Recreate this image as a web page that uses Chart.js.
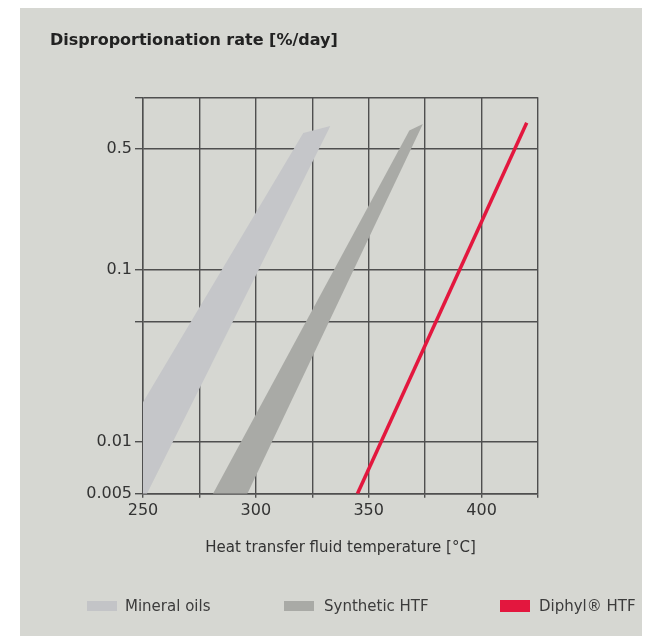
<!DOCTYPE html>
<html lang="en">
<head>
  <meta charset="UTF-8" />
  <title>Disproportionation rate</title>
  <script src="https://cdn.jsdelivr.net/npm/chart.js"></script>
  <style>
    body {
      margin: 0;
      padding: 0;
      background: #ffffff;
      font-family: 'DejaVu Sans', sans-serif;
    }

    .panel {
      position: absolute;
      left: 20px;
      top: 8px;
      width: 622px;
      height: 628px;
      background: #d6d7d2;
    }

    .chart-box {
      position: absolute;
      left: 0;
      top: 0;
      width: 622px;
      height: 628px;
    }

    .legend span {
      position: absolute;
      font-size: 15px;
      line-height: 20px;
      color: #3c3c3c;
      white-space: nowrap;
    }

    .legend .swatch {
      height: 10px;
      width: 30px;
    }
  </style>
</head>
<body>

<div class="panel">
  <div class="chart-box">
    <canvas id="rateChart"></canvas>
  </div>

  <!-- legend -->
  <div class="legend">
    <span class="swatch" style="left:67px; top:593px; background:#c3c4c7;"></span>
    <span style="left:105px; top:588px;">Mineral oils</span>
    <span class="swatch" style="left:264px; top:593px; background:#a9aaa6;"></span>
    <span style="left:304px; top:588px;">Synthetic HTF</span>
    <span class="swatch" style="left:480px; top:592px; height:12px; background:#e3173e;"></span>
    <span style="left:519px; top:588px;">Diphyl® HTF</span>
  </div>
</div>

<script>
  // axis grid / labels
  const xGrid = [250, 275, 300, 325, 350, 375, 400, 425];
  const xLabels = [250, 300, 350, 400];
  const yGrid = [0.005, 0.01, 0.05, 0.1, 0.5, 1];
  const yLabels = [0.005, 0.01, 0.1, 0.5];

  // mineral oils band (edges, temperature / rate)
  const mineralUpperT = [250, 321, 333];
  const mineralUpperV = [0.017, 0.62, 0.68];
  const mineralLowerT = [250, 333];
  const mineralLowerV = [0.0045, 0.68];

  // synthetic HTF band
  const synthUpperT = [281, 368, 374];
  const synthUpperV = [0.005, 0.64, 0.70];
  const synthLowerT = [281, 374];
  const synthLowerV = [0.0019, 0.70];

  // Diphyl HTF line
  const diphylT = [345, 420];
  const diphylV = [0.005, 0.71];

  function pts(t, v) {
    return t.map((x, i) => ({ x: x, y: v[i] }));
  }

  const gridColor = '#4f4f4f';
  const tickFont = { family: 'DejaVu Sans', size: 16 };

  const edge = { borderWidth: 0, borderColor: 'rgba(0,0,0,0)', pointRadius: 0 };

  new Chart(document.getElementById('rateChart'), {
    type: 'line',
    data: {
      datasets: [
        { ...edge, label: 'Mineral oils top', data: pts(mineralUpperT, mineralUpperV), fill: false },
        { ...edge, label: 'Mineral oils', data: pts(mineralLowerT, mineralLowerV), fill: '-1', backgroundColor: '#c5c6c9' },
        { ...edge, label: 'Synthetic HTF top', data: pts(synthUpperT, synthUpperV), fill: false },
        { ...edge, label: 'Synthetic HTF', data: pts(synthLowerT, synthLowerV), fill: '-1', backgroundColor: '#a9aaa6' },
        {
          label: 'Diphyl® HTF',
          data: pts(diphylT, diphylV),
          borderColor: '#e3173e',
          borderWidth: 3.5,
          pointRadius: 0,
          fill: false
        }
      ]
    },
    options: {
      responsive: true,
      maintainAspectRatio: false,
      animation: false,
      layout: { padding: { left: 30, right: 104, top: 0, bottom: 77 } },
      scales: {
        x: {
          type: 'linear',
          min: 250,
          max: 425,
          afterBuildTicks: s => { s.ticks = xGrid.map(v => ({ value: v })); },
          ticks: {
            callback: v => xLabels.includes(v) ? String(v) : '',
            font: tickFont,
            color: '#333',
            padding: 3,
            maxRotation: 0,
            autoSkip: false
          },
          grid: { color: gridColor, lineWidth: 1.4, tickLength: 4 },
          border: { color: gridColor, width: 1.4 },
          title: {
            display: true,
            text: 'Heat transfer fluid temperature [°C]',
            font: { family: 'DejaVu Sans', size: 15 },
            color: '#333',
            padding: { top: 16, bottom: 2 }
          }
        },
        y: {
          type: 'logarithmic',
          min: 0.005,
          max: 1,
          afterBuildTicks: s => { s.ticks = yGrid.map(v => ({ value: v })); },
          afterFit: s => { s.width = 93; },
          ticks: {
            callback: v => yLabels.includes(v) ? String(v) : '',
            font: tickFont,
            color: '#333',
            padding: 3,
            autoSkip: false
          },
          grid: { color: gridColor, lineWidth: 1.4, tickLength: 8 },
          border: { color: gridColor, width: 1.4 }
        }
      },
      plugins: {
        legend: { display: false },
        tooltip: { enabled: false },
        title: {
          display: true,
          text: 'Disproportionation rate [%/day]',
          align: 'start',
          color: '#222',
          font: { family: 'DejaVu Sans', size: 16, weight: 'bold' },
          padding: { top: 23, bottom: 47 }
        }
      }
    }
  });
</script>

</body>
</html>
